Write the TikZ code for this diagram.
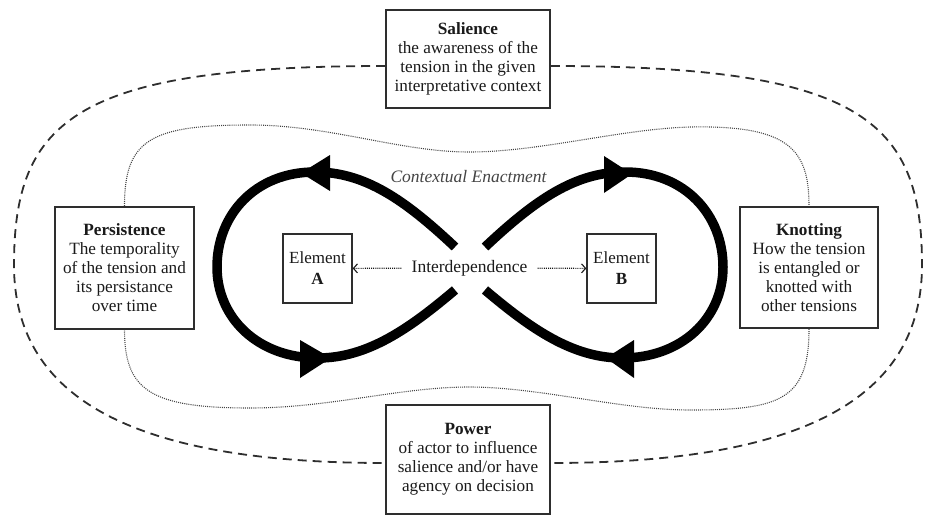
\documentclass[tikz,border=0pt]{standalone}
\usepackage{fontspec}
\setmainfont{Liberation Serif}
\usetikzlibrary{arrows.meta}
\definecolor{ink}{HTML}{1A1A1A}
\definecolor{frame}{HTML}{2E2E2E}
\definecolor{soft}{HTML}{444444}
\tikzset{
  label box/.style={draw=frame, line width=1.9pt, fill=white, align=center,
    inner sep=0pt, text=ink, font=\fontsize{17.2}{19}\selectfont},
  elem box/.style={draw=frame, line width=1.4pt, fill=white, align=center,
    inner sep=0pt, text=ink, minimum width=69pt, minimum height=69pt,
    font=\fontsize{17}{21}\selectfont},
  outer ring/.style={draw=frame, line width=1.8pt, dash pattern=on 9pt off 6pt},
  inner ring/.style={draw=soft, line width=1.1pt, dash pattern=on 1pt off 1.1pt},
  loop strand/.style={draw=black, line width=9.5pt},
  head/.style={fill=black},
  link/.style={draw=ink, line width=1.2pt, dash pattern=on 1pt off 1.1pt,
    -{Straight Barb[length=4pt,width=9pt,line width=1.1pt]}},
  plain text/.style={text=ink, font=\fontsize{17.5}{19}\selectfont}
}
\begin{document}
\begin{tikzpicture}[x=1pt,y=-1pt]
\useasboundingbox (0,0) rectangle (926,519);

% four dimension boxes
\node[label box, minimum width=164pt, minimum height=98pt] (sal) at (468,59)
  {\textbf{Salience}\\the awareness of the\\tension in the given\\interpretative context};
\node[label box, minimum width=139pt, minimum height=122pt] (per) at (124.5,268)
  {\textbf{Persistence}\\The temporality\\of the tension and\\its persistance\\over time};
\node[label box, minimum width=138pt, minimum height=121pt] (kno) at (809,267.5)
  {\textbf{Knotting}\\How the tension\\is entangled or\\knotted with\\other tensions};
\node[label box, minimum width=164pt, minimum height=109pt] (pow) at (468,459.5)
  {\textbf{Power}\\of actor to influence\\salience and/or have\\agency on decision};

% outer dashed ring joining salience and power
\draw[outer ring] ([yshift=-7pt]sal.east) .. controls (860,66) and (922,120) .. (922,265)
  .. controls (922,400) and (800,463) .. ([yshift=-3.5pt]pow.east);
\draw[outer ring] ([yshift=-7pt]sal.west) .. controls (76,66) and (14,120) .. (14,265)
  .. controls (14,400) and (136,463) .. ([yshift=-3.5pt]pow.west);

% inner dotted ring joining persistence and knotting
\draw[inner ring] (per.north) .. controls (124.5,140) and (150,125) .. (250,125)
  .. controls (330,125) and (400,152) .. (469,152)
  .. controls (540,152) and (620,129) .. (690,127)
  .. controls (790,125) and (809,150) .. (kno.north);
\draw[inner ring] (kno.south) .. controls (809,400) and (780,410) .. (690,410)
  .. controls (620,410) and (540,387) .. (469,387)
  .. controls (400,387) and (330,408) .. (250,408)
  .. controls (150,408) and (124.5,390) .. (per.south);

% infinity loops
\draw[loop strand] (455,247) .. controls (405,200) and (365,172) .. (315,172)
  .. controls (255,172) and (217,215) .. (217,267)
  .. controls (217,318) and (258,358) .. (318,358)
  .. controls (368,358) and (410,328) .. (455,290);
\draw[loop strand] (485,247) .. controls (535,200) and (575,172) .. (625,172)
  .. controls (685,172) and (723,215) .. (723,267)
  .. controls (723,318) and (682,358) .. (622,358)
  .. controls (572,358) and (530,328) .. (485,290);

% arrowheads on the loops
\fill[head] (301,173) -- (330,155) -- (330,191) -- cycle;
\fill[head] (331,358) -- (300,340) -- (300,378) -- cycle;
\fill[head] (632,174) -- (604,156) -- (604,193) -- cycle;
\fill[head] (606,358) -- (634,340) -- (634,378) -- cycle;

% elements and their interdependence
\node[elem box] (ea) at (317.5,268.5) {Element\\\textbf{A}};
\node[elem box] (eb) at (621.5,268.5) {Element\\\textbf{B}};
\node[plain text, inner xsep=10pt, inner ysep=2pt] (int) at (469.5,268) {Interdependence};
\draw[link] (int) -- (ea);
\draw[link] (int) -- (eb);

\node[plain text, text=soft, font=\fontsize{17.5}{19}\selectfont\itshape] (ce) at (468.5,177)
  {Contextual Enactment};
\end{tikzpicture}
\end{document}
